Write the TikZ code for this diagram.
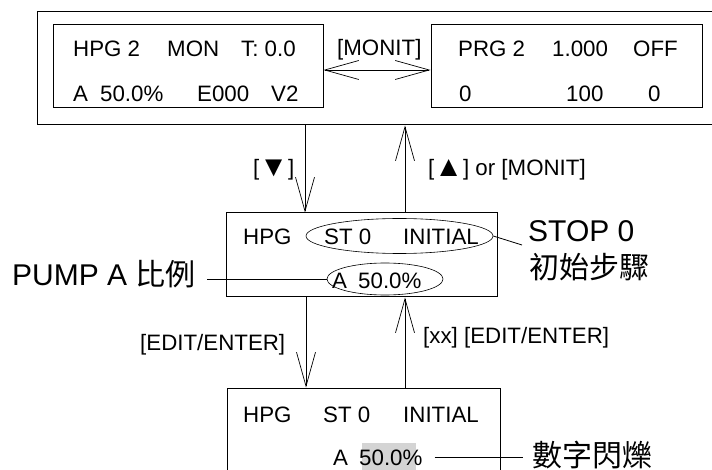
\documentclass[tikz,border=0pt]{standalone}
\usepackage{fontspec}
\setmainfont{Liberation Sans}
\newfontfamily\cjk{Noto Sans CJK TC}
\usetikzlibrary{arrows.meta,positioning,calc,shapes.geometric}
\newcommand\lcdfont{\fontsize{22.3}{26}\selectfont}
\newcommand\calloutfont{\fontsize{30}{36}\selectfont}
\newcommand\keytri[1]{\raisebox{-0.5pt}{\scalebox{1.3}{#1}}}
\definecolor{hilite}{RGB}{212,212,212}

\tikzset{
  lcd/.style={draw, line width=1pt, inner sep=0pt},
  tok/.style={anchor=base west, inner sep=0pt, font=\lcdfont},
  callout/.style={inner sep=0pt, font=\calloutfont},
  ring/.style={draw, ellipse, line width=0.6pt, inner sep=0pt},
  barb/.tip={Straight Barb[length=34pt,width=19pt,line width=0.7pt]},
  arr/.style={line width=0.8pt, -barb},
}

\begin{document}
\begin{tikzpicture}[x=1pt,y=-1pt]
  \clip (0,0) rectangle (712,470);
  % screens
  \node[lcd, minimum width=683pt, minimum height=113pt] (panel) at (378.5,68.5) {};
  \node[lcd, minimum width=270pt, minimum height=83pt] (mon) at (188,66) {};
  \node[lcd, minimum width=271pt, minimum height=83pt] (prg) at (566.5,66) {};
  \node[lcd, minimum width=271pt, minimum height=84pt] (stp) at (361.5,255) {};
  \node[lcd, minimum width=273pt, minimum height=104pt] (edt) at (363.5,440) {};
  \fill[hilite] (362,443) rectangle (416,472);
  % monitor screen
  \foreach \x/\t [count=\i] in {73/HPG 2,167/MON,241/{T: 0.0}}
    \node[tok] (mona\i) at (\x,57) {\t};
  \foreach \x/\t [count=\i] in {73/A,100/50.0\%,197/E000,271/V2}
    \node[tok] (monb\i) at (\x,102) {\t};
  % program screen
  \foreach \x/\t [count=\i] in {458/PRG 2,552/1.000,633/OFF}
    \node[tok] (prga\i) at (\x,57) {\t};
  \foreach \x/\t [count=\i] in {459/0,566/100,648/0}
    \node[tok] (prgb\i) at (\x,102) {\t};
  % step 0 screen
  \foreach \x/\t [count=\i] in {243/HPG,324/ST 0,403/INITIAL}
    \node[tok] (stpa\i) at (\x,245) {\t};
  \foreach \x/\t [count=\i] in {332/A,358/50.0\%}
    \node[tok] (stpb\i) at (\x,289) {\t};
  % edit screen
  \foreach \x/\t [count=\i] in {243/HPG,323/ST 0,403/INITIAL}
    \node[tok] (edta\i) at (\x,422) {\t};
  \foreach \x/\t [count=\i] in {333/A,359/50.0\%}
    \node[tok] (edtb\i) at (\x,465) {\t};
  % key labels
  \node[tok] (kmon) at (337,56) {[MONIT]};
  \node[tok] (kdown) at (253,176) {[\keytri{▼}]};
  \node[tok] (kup) at (428,176) {[\keytri{▲}] or [MONIT]};
  \node[tok] (kedit) at (140,350) {[EDIT/ENTER]};
  \node[tok] (kxx) at (423,343) {[xx] [EDIT/ENTER]};
  % key arrows
  \coordinate (dn1) at ([xshift=-56.5pt]stp.north);
  \coordinate (up1) at ([xshift=43.5pt]stp.north);
  \coordinate (dn2) at ([xshift=-55.5pt]stp.south);
  \coordinate (up2) at ([xshift=43.5pt]stp.south);
  \draw[line width=0.8pt, barb-barb] ([yshift=-4pt]mon.east) -- ([yshift=-4pt]mon.east -| prg.west);
  \draw[arr] (panel.south -| dn1) -- (dn1);
  \draw[arr] (up1) -- (panel.south -| up1);
  \draw[arr] (dn2) -- (dn2 |- edt.north);
  \draw[arr] (up2 |- edt.north) -- (up2);
  % marked fields
  \node[ring, minimum width=187pt, minimum height=35pt] (ell1) at (399.5,236) {};
  \node[ring, minimum width=116pt, minimum height=32pt] (ell2) at (385,279) {};
  % callouts
  \node[callout, anchor=base west] (stop) at (528,242) {STOP 0};
  \node[callout, anchor=west] (init) at (529,267) {\cjk 初始步驟};
  \node[callout, anchor=base west] (pump) at (12,286) {PUMP A \cjk 比例};
  \node[callout, anchor=west] (flash) at (532,455) {\cjk 數字閃爍};
  \draw[line width=0.8pt] (ell1.east) -- ($(stop.base west)+(-6,3)$);
  \draw[line width=0.8pt] (ell2.west) -- (ell2.west -| {$(pump.east)+(11,0)$});
  \draw[line width=0.8pt] ($(edtb2.east)+(12,0)$) -- ($(edtb2.east -| flash.west)+(-9,0)$);
\end{tikzpicture}
\end{document}
